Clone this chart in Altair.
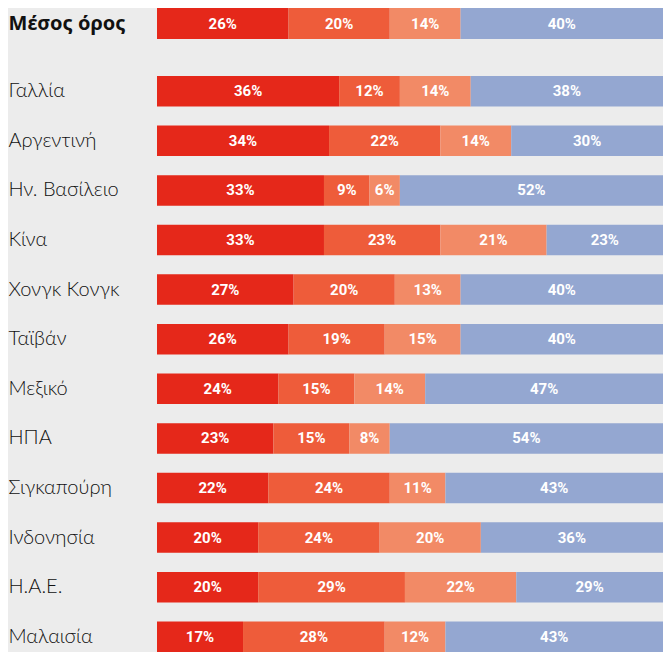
import altair as alt
import pandas as pd

mean_label = ["Μέσος όρος"]
mean_values = [[26, 20, 14, 40]]

countries = ["Γαλλία", "Αργεντινή", "Ην. Βασίλειο", "Κίνα", "Χονγκ Κονγκ", "Ταϊβάν",
             "Μεξικό", "ΗΠΑ", "Σιγκαπούρη", "Ινδονησία", "Η.Α.Ε.", "Μαλαισία"]
s1 = [36, 34, 33, 33, 27, 26, 24, 23, 22, 20, 20, 17]
s2 = [12, 22, 9, 23, 20, 19, 15, 15, 24, 24, 29, 28]
s3 = [14, 14, 6, 21, 13, 15, 14, 8, 11, 20, 22, 12]
s4 = [38, 30, 52, 23, 40, 40, 47, 54, 43, 36, 29, 43]

segments = ["a", "b", "c", "d"]
colors = ["#e5281a", "#ee5c3a", "#f28a66", "#94a7d1"]


def long_df(labels, rows):
    recs = []
    for lab, vals in zip(labels, rows):
        for i, v in enumerate(vals):
            recs.append({"label": lab, "seg": segments[i], "ord": i, "value": v,
                         "txt": f"{v}%"})
    return pd.DataFrame(recs)


mean_df = long_df(mean_label, mean_values)
country_df = long_df(countries, list(zip(s1, s2, s3, s4)))


def make(df, order, height, pad_inner, bold):
    base = alt.Chart(df).transform_stack(
        stack="value", as_=["x0", "x1"], groupby=["label"],
        sort=[alt.SortField("ord", order="ascending")]
    ).transform_calculate(mid="(datum.x0 + datum.x1) / 2")
    yenc = alt.Y("label:N", sort=order, title=None,
                 scale=alt.Scale(paddingInner=pad_inner, paddingOuter=0),
                 axis=alt.Axis(labelAlign="left", labelPadding=149, ticks=False,
                               domain=False, labelFontSize=20,
                               labelFont="Noto Sans" if bold else "Lato",
                               labelFontWeight="bold" if bold else 300,
                               labelColor="#111111", labelLimit=200))
    xscale = alt.Scale(domain=[0, 100], nice=False, zero=True)
    bars = base.mark_bar().encode(
        y=yenc,
        x=alt.X("x0:Q", scale=xscale, axis=None),
        x2="x1:Q",
        color=alt.Color("seg:N", scale=alt.Scale(domain=segments, range=colors),
                        legend=None),
    )
    text = base.mark_text(color="white", font="Roboto", fontWeight="bold",
                          fontSize=15).encode(
        y=alt.Y("label:N", sort=order),
        x=alt.X("mid:Q", scale=xscale),
        text="txt:N",
    )
    return alt.layer(bars, text).properties(width=506, height=height)


top = make(mean_df, mean_label, 31, 0, True)
bottom = make(country_df, countries, 576, 0.385, False)

chart = alt.vconcat(top, bottom, spacing=37).properties(
    background="#ececec", padding=0
).configure_view(stroke=None).configure_axis(grid=False)

chart.save("out.html", embed_options={"renderer": "svg", "actions": False})
